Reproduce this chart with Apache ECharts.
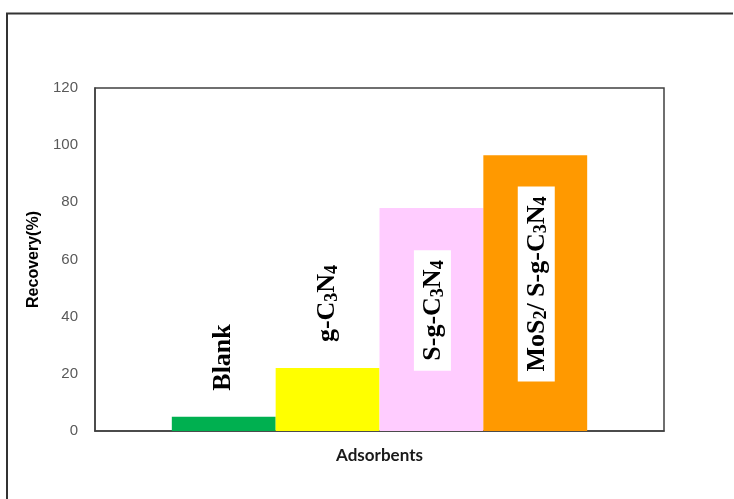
<!DOCTYPE html>
<html>
<head>
<meta charset="utf-8">
<style>
  html, body { margin: 0; padding: 0; background: #fff; }
  #chart { width: 734px; height: 499px; }
</style>
<script src="https://cdn.jsdelivr.net/npm/echarts@6/dist/echarts.min.js"></script>
</head>
<body>
<div id="chart"></div>
<script>
// Recovery of each adsorbent, one bar per material
const materials = ['Blank', 'g-C3N4', 'S-g-C3N4', 'MoS2/ S-g-C3N4'];
const recovery = [5, 22, 78, 96.5];
const barColors = ['#00b050', '#ffff00', '#ffccff', '#ff9900'];
const labelText = ['Blank', 'g-C{s|3}N{s|4}', 'S-g-C{s|3}N{s|4}', 'MoS{s|2}/ S-g-C{s|3}N{s|4}'];
const labelInside = [false, false, true, true];
const yTicks = { min: 0, max: 120, interval: 20 };

const serif = '"Liberation Serif", "Times New Roman", serif';
const richSub = {
  n: { fontFamily: serif, fontWeight: 'bold', fontSize: 26, color: '#000' },
  s: { fontFamily: serif, fontWeight: 'bold', fontSize: 18, color: '#000', padding: [9, 0, 0, 0] }
};

const series = materials.map((name, i) => {
  const inside = labelInside[i];
  return {
    name: name,
    type: 'bar',
    barGap: '0%',
    barCategoryGap: '27%',
    data: [recovery[i]],
    itemStyle: { color: barColors[i] },
    label: {
      show: true,
      rotate: 90,
      position: inside ? 'inside' : 'top',
      distance: 24,
      align: inside ? 'center' : 'left',
      verticalAlign: 'middle',
      offset: inside ? [9, 1] : [2, 0],
      formatter: () => labelText[i].replace(/^([^{]+)/, '{n|$1}').replace(/\}([^{]+)/g, '}{n|$1}'),
      rich: richSub,
      backgroundColor: inside ? '#fff' : 'transparent',
      padding: inside ? [6, 10, 4, 10] : 0
    }
  };
});

const chart = echarts.init(document.getElementById('chart'));
chart.setOption({
  animation: false,
  backgroundColor: '#fff',
  grid: {
    left: 95, right: 70, top: 88, bottom: 68,
    show: true, borderColor: '#404040', borderWidth: 1.5, backgroundColor: 'transparent'
  },
  xAxis: {
    type: 'category',
    data: [''],
    name: 'Adsorbents',
    nameLocation: 'middle',
    nameGap: 16,
    nameTextStyle: { fontFamily: 'Lato, "Open Sans", sans-serif', fontWeight: 'bold', fontSize: 17, color: '#1a1a1a' },
    axisLine: { show: true, lineStyle: { color: '#404040', width: 1.5 } },
    axisTick: { show: false },
    axisLabel: { show: false }
  },
  yAxis: {
    type: 'value',
    min: yTicks.min, max: yTicks.max, interval: yTicks.interval,
    name: 'Recovery(%)',
    nameLocation: 'middle',
    nameGap: 46,
    nameTextStyle: { fontFamily: '"Liberation Sans", Arial, sans-serif', fontWeight: 'bold', fontSize: 16, color: '#000' },
    axisLine: { show: true, lineStyle: { color: '#404040', width: 1.5 } },
    axisTick: { show: false },
    splitLine: { show: false },
    axisLabel: {
      margin: 17,
      fontFamily: '"Liberation Sans", Arial, sans-serif',
      fontSize: 15,
      color: '#595959'
    }
  },
  series: series,
  graphic: [
    {
      type: 'polyline',
      shape: { points: [[7, 499], [7, 13.5], [733, 13.5]] },
      style: { stroke: '#333', lineWidth: 2, fill: null }
    }
  ]
});
</script>
</body>
</html>
